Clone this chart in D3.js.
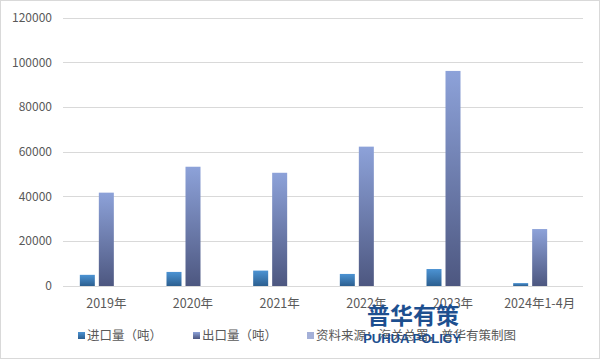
<!DOCTYPE html>
<html><head><meta charset="utf-8">
<script src="https://cdn.jsdelivr.net/npm/d3@7"></script>
<style>body{margin:0;background:#fff}svg{display:block}</style>
</head><body>
<svg id="c" width="601" height="360"></svg>
<script>
const categories = ["2019年","2020年","2021年","2022年","2023年","2024年1-4月"];
const importVals = [5000, 6300, 6900, 5400, 7600, 1300];
const exportVals = [41800, 53400, 50700, 62400, 96300, 25500];
const sourceVals = [0, 0, 0, 0, 0, 0];
const seriesNames = ["进口量（吨）","出口量（吨）","资料来源：海关总署，普华有策制图"];
const yTicks = [0, 20000, 40000, 60000, 80000, 100000, 120000];

const svg = d3.select("#c");
const font = "'Microsoft YaHei','Noto Sans CJK SC','DejaVu Sans',sans-serif";
svg.append("rect").attr("x",0.5).attr("y",0.5).attr("width",599).attr("height",358)
  .attr("fill","#fff").attr("stroke","#d9d9d9");

const defs = svg.append("defs");
function grad(id, top, bot){
  const g = defs.append("linearGradient").attr("id",id).attr("x1",0).attr("y1",0).attr("x2",0).attr("y2",1);
  g.append("stop").attr("offset","0%").attr("stop-color",top);
  g.append("stop").attr("offset","100%").attr("stop-color",bot);
}
grad("g0","#4c93d3","#2c5f90");
grad("g1","#8da2d9","#4d5780");
grad("g2","#a4b0d8","#a4b0d8");

const m = {l:63, r:583, t:18, b:286};
const x = d3.scaleBand().domain(categories).range([m.l, m.r]).paddingInner(0).paddingOuter(0);
const y = d3.scaleLinear().domain([0,120000]).range([m.b, m.t]);

svg.append("g").selectAll("line").data(yTicks).join("line")
  .attr("x1",m.l).attr("x2",m.r).attr("y1",d=>y(d)).attr("y2",d=>y(d))
  .attr("stroke","#d9d9d9").attr("stroke-width",1).attr("shape-rendering","crispEdges");

svg.append("g").selectAll("text").data(yTicks).join("text")
  .attr("x",52).attr("y",d=>y(d)+4).attr("text-anchor","end")
  .attr("font-family",font).attr("font-size",12).attr("fill","#595959").text(d=>d);

const series = [importVals, exportVals, sourceVals];
const barW = 15, gap = 4;
const groupW = 3*barW + 2*gap;
const xs = d3.scaleBand().domain([0,1,2]).range([0, groupW]).paddingInner(gap/(barW+gap)).paddingOuter(0);

series.forEach((vals, si) => {
  svg.append("g").selectAll("rect").data(vals).join("rect")
    .attr("x",(d,i)=> x(categories[i]) + x.bandwidth()/2 - groupW/2 + xs(si))
    .attr("width", xs.bandwidth())
    .attr("y", d=>y(d)).attr("height", d=>y(0)-y(d))
    .attr("fill",`url(#g${si})`);
});

svg.append("g").selectAll("text").data(categories).join("text")
  .attr("x",d=>x(d)+x.bandwidth()/2).attr("y",308).attr("text-anchor","middle")
  .attr("font-family",font).attr("font-size",12.5).attr("fill","#595959").text(d=>d);

const legX = [78, 193, 307];
const colors = ["url(#g0)","url(#g1)","#a4b0d8"];
seriesNames.forEach((n,i)=>{
  svg.append("rect").attr("x",legX[i]).attr("y",332).attr("width",7).attr("height",7).attr("fill",colors[i]);
  svg.append("text").attr("x",legX[i]+9).attr("y",340).attr("font-family",font).attr("font-size",12.5)
    .attr("fill","#595959").text(n);
});

// watermark
svg.append("text").attr("x",413).attr("y",324).attr("text-anchor","middle")
  .attr("font-family",font).attr("font-size",23).attr("font-weight","bold").attr("fill","#1d4f8f")
  .text("普华有策");
svg.append("text").attr("x",412).attr("y",343).attr("text-anchor","middle")
  .attr("font-family","'Liberation Sans',Arial,sans-serif").attr("font-size",13).attr("font-weight","bold").attr("fill","#1d4f8f")
  .text("PUHUA POLICY");
</script>
</body></html>
